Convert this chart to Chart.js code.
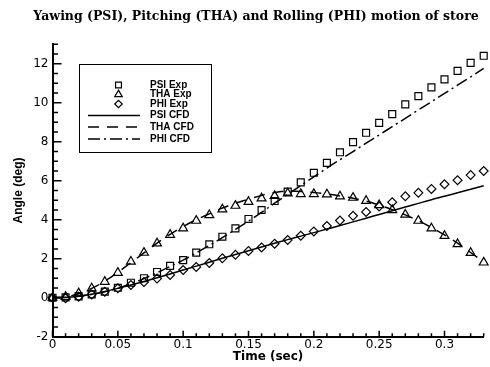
<!DOCTYPE html>
<html>
<head>
<meta charset="utf-8">
<script src="https://cdn.jsdelivr.net/npm/chart.js@4.4.1/dist/chart.umd.min.js"></script>
<style>
  html, body { margin: 0; padding: 0; background: #fff; }
  #wrap { width: 490px; height: 367px; }
</style>
</head>
<body>
<div id="wrap"><canvas id="chart" width="490" height="367"></canvas></div>
<script>
const chartTitle = 'Yawing (PSI), Pitching (THA) and Rolling (PHI) motion of store';

// time samples (sec), shared by every series
const time = [0, 0.01, 0.02, 0.03, 0.04, 0.05, 0.06, 0.07, 0.08, 0.09, 0.1, 0.11,
  0.12, 0.13, 0.14, 0.15, 0.16, 0.17, 0.18, 0.19, 0.2, 0.21, 0.22, 0.23, 0.24,
  0.25, 0.26, 0.27, 0.28, 0.29, 0.3, 0.31, 0.32, 0.33];

// experiment (markers)
const psiExp = [0, 0.02, 0.07, 0.17, 0.31, 0.51, 0.77, 1.0, 1.32, 1.63, 1.93, 2.31,
  2.74, 3.13, 3.56, 4.04, 4.5, 4.96, 5.44, 5.92, 6.41, 6.92, 7.46, 7.98, 8.46,
  8.97, 9.42, 9.92, 10.34, 10.79, 11.2, 11.64, 12.05, 12.41];
const thaExp = [0, 0.05, 0.23, 0.48, 0.82, 1.28, 1.85, 2.31, 2.79, 3.23, 3.56, 3.95,
  4.24, 4.53, 4.72, 4.92, 5.1, 5.22, 5.35, 5.32, 5.32, 5.3, 5.2, 5.13, 4.97,
  4.75, 4.5, 4.26, 3.95, 3.56, 3.17, 2.75, 2.3, 1.81];
const phiExp = [0, -0.03, 0.05, 0.17, 0.31, 0.48, 0.65, 0.8, 0.98, 1.17, 1.42, 1.58,
  1.78, 2.02, 2.2, 2.4, 2.58, 2.77, 2.96, 3.18, 3.4, 3.68, 3.96, 4.2, 4.4,
  4.68, 4.9, 5.2, 5.38, 5.58, 5.82, 6.03, 6.29, 6.5];

// CFD (lines)
const psiCfd = [0, 0.02, 0.08, 0.18, 0.32, 0.48, 0.65, 0.83, 1.02, 1.22, 1.42, 1.62,
  1.82, 2.02, 2.22, 2.41, 2.6, 2.79, 2.98, 3.16, 3.34, 3.52, 3.7, 3.89, 4.08,
  4.27, 4.46, 4.65, 4.84, 5.03, 5.2, 5.38, 5.56, 5.74];
const thaCfd = [0, 0.04, 0.2, 0.48, 0.85, 1.3, 1.8, 2.3, 2.8, 3.25, 3.65, 4.0,
  4.3, 4.6, 4.85, 5.05, 5.25, 5.4, 5.47, 5.45, 5.4, 5.32, 5.22, 5.1, 4.95,
  4.75, 4.52, 4.25, 3.95, 3.6, 3.22, 2.8, 2.32, 1.82];
const phiCfd = [0, 0.02, 0.07, 0.17, 0.3, 0.48, 0.72, 0.98, 1.28, 1.6, 1.93, 2.3,
  2.68, 3.08, 3.5, 3.93, 4.38, 4.85, 5.3, 5.75, 6.2, 6.65, 7.08, 7.5, 7.93,
  8.35, 8.78, 9.2, 9.63, 10.05, 10.48, 10.9, 11.33, 11.76];

const xTickValues = [0, 0.05, 0.1, 0.15, 0.2, 0.25, 0.3];
const xTickLabels = ['0', '0.05', '0.1', '0.15', '0.2', '0.25', '0.3'];
const yTickValues = [-2, 0, 2, 4, 6, 8, 10, 12];
const yTickLabels = ['-2', '0', '2', '4', '6', '8', '10', '12'];

const toPoints = (values) => values.map((v, i) => ({ x: time[i], y: v }));

const markerSet = (label, values, style, radius) => ({
  label,
  data: toPoints(values),
  showLine: false,
  pointStyle: style,
  pointRadius: radius,
  pointBorderWidth: 1.2,
  pointBorderColor: '#000',
  pointBackgroundColor: 'rgba(0,0,0,0)',
  clip: false
});

const lineSet = (label, values, dash) => ({
  label,
  data: toPoints(values),
  showLine: true,
  borderColor: '#000',
  borderWidth: 1.5,
  borderDash: dash,
  pointRadius: 0,
  cubicInterpolationMode: 'monotone',
  clip: false
});

// title, a little right of the canvas centre like the original
const titleText = {
  id: 'titleText',
  afterDraw(chart) {
    const ctx = chart.ctx;
    ctx.save();
    ctx.font = 'bold 12.5px "DejaVu Serif"';
    ctx.fillStyle = '#000';
    ctx.textAlign = 'center';
    ctx.textBaseline = 'middle';
    ctx.fillText(chartTitle, 256, 17);
    ctx.restore();
  }
};

// inward major/minor ticks, tecplot style
const inwardTicks = {
  id: 'inwardTicks',
  afterDatasetsDraw(chart) {
    const { ctx, chartArea: a, scales: { x, y } } = chart;
    ctx.save();
    ctx.strokeStyle = '#000';
    ctx.lineWidth = 1.5;
    ctx.beginPath();
    for (let i = 0; i <= 33; i++) {
      const px = x.getPixelForValue(i * 0.01);
      const len = i % 5 === 0 ? 6 : 3.5;
      ctx.moveTo(px, a.bottom);
      ctx.lineTo(px, a.bottom - len);
    }
    for (let i = 0; i <= 30; i++) {
      const py = y.getPixelForValue(-2 + i * 0.5);
      const len = i % 4 === 0 ? 9 : 5.5;
      ctx.moveTo(a.left, py);
      ctx.lineTo(a.left + len, py);
    }
    ctx.stroke();
    ctx.restore();
  }
};

// boxed legend inside the plot
const legendBox = {
  id: 'legendBox',
  afterDraw(chart) {
    const ctx = chart.ctx;
    const rows = [85, 94.5, 104, 115.5, 127, 139];
    ctx.save();
    ctx.strokeStyle = '#000';
    ctx.lineWidth = 1;
    ctx.strokeRect(79.5, 64.5, 132, 88);
    ctx.font = 'bold 10px "Liberation Sans"';
    ctx.textBaseline = 'middle';
    ctx.fillStyle = '#000';
    chart.data.datasets.forEach((ds, i) => {
      const yy = rows[i];
      if (ds.showLine) {
        ctx.lineWidth = ds.borderWidth;
        ctx.setLineDash(ds.borderDash || []);
        ctx.beginPath();
        ctx.moveTo(88, yy);
        ctx.lineTo(140, yy);
        ctx.stroke();
        ctx.setLineDash([]);
      } else {
        ctx.lineWidth = 1.2;
        ctx.fillStyle = 'rgba(0,0,0,0)';
        Chart.helpers.drawPoint(ctx, {
          pointStyle: ds.pointStyle, radius: ds.pointRadius * 0.85,
          borderWidth: 1.2, rotation: 0
        }, 118.5, yy);
        ctx.fillStyle = '#000';
      }
      ctx.fillText(ds.label, 150, yy);
    });
    ctx.restore();
  }
};

new Chart(document.getElementById('chart'), {
  type: 'scatter',
  data: {
    datasets: [
      markerSet('PSI Exp', psiExp, 'rect', 4.9),
      markerSet('THA Exp', thaExp, 'triangle', 5.1),
      markerSet('PHI Exp', phiExp, 'rectRot', 4.4),
      lineSet('PSI CFD', psiCfd, []),
      lineSet('THA CFD', thaCfd, [11, 8]),
      lineSet('PHI CFD', phiCfd, [12, 4, 2, 4])
    ]
  },
  options: {
    responsive: false,
    animation: false,
    devicePixelRatio: 1,
    layout: { padding: { left: 0, right: 4, top: 44.3, bottom: 0 } },
    plugins: {
      legend: { display: false },
      tooltip: { enabled: false },
      title: { display: false }
    },
    scales: {
      x: {
        type: 'linear',
        position: 'bottom',
        min: 0,
        max: 0.33,
        afterBuildTicks: s => { s.ticks = xTickValues.map(v => ({ value: v })); },
        afterFit: s => { s.height = 30.3; },
        ticks: {
          callback: (v, i) => xTickLabels[i],
          color: '#000',
          font: { family: '"DejaVu Sans"', size: 12 },
          padding: 1,
          maxRotation: 0,
          autoSkip: false
        },
        grid: { drawOnChartArea: false, drawTicks: false },
        border: { display: true, color: '#000', width: 2 },
        title: {
          display: true,
          text: 'Time (sec)',
          color: '#000',
          font: { family: '"DejaVu Sans"', size: 12, weight: 'bold' },
          padding: { top: 0, bottom: 2.5 }
        }
      },
      y: {
        type: 'linear',
        min: -2,
        max: 13,
        afterBuildTicks: s => { s.ticks = yTickValues.map(v => ({ value: v })); },
        afterFit: s => { s.width = 52.5; },
        ticks: {
          callback: (v, i) => yTickLabels[i],
          color: '#000',
          font: { family: '"DejaVu Sans"', size: 12 },
          padding: 4
        },
        grid: { drawOnChartArea: false, drawTicks: false },
        border: { display: true, color: '#000', width: 2 },
        title: {
          display: true,
          text: 'Angle (deg)',
          color: '#000',
          font: { family: '"Liberation Sans"', size: 12, weight: 'bold' },
          padding: { top: 11, bottom: 0 }
        }
      }
    }
  },
  plugins: [inwardTicks, legendBox, titleText]
});
</script>
</body>
</html>
